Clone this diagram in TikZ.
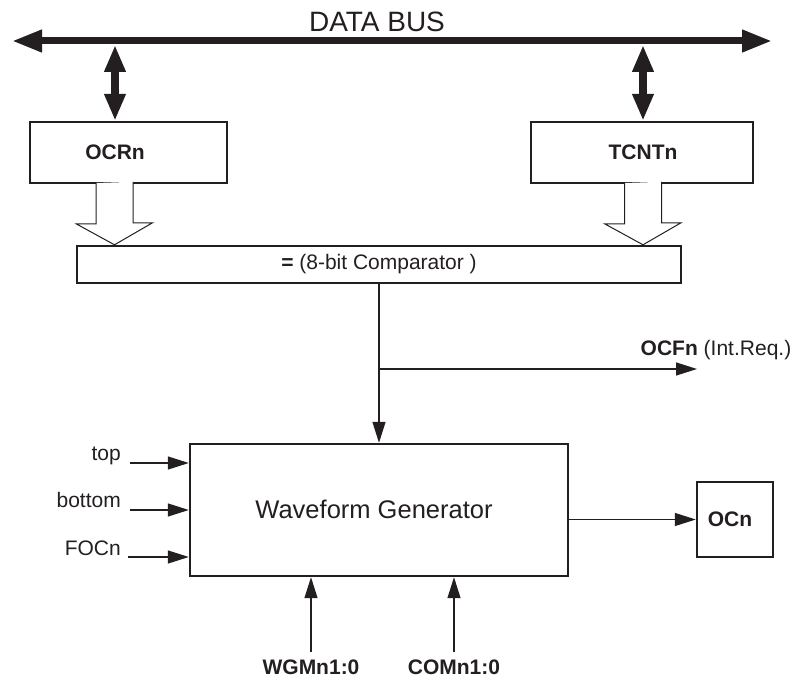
\documentclass[tikz,border=0pt]{standalone}
\usepackage{fontspec}
\setmainfont{Liberation Sans}
\usetikzlibrary{arrows.meta}
\definecolor{ink}{HTML}{231F20}
\tikzset{
	box/.style={draw=ink, line width=2.4pt, inner sep=0pt, text=ink},
	small/.style={font=\fontsize{21}{25}\selectfont},
	smallbf/.style={font=\fontsize{21}{25}\selectfont\bfseries},
	lbl/.style={inner sep=0pt, text=ink},
	sig/.style={draw=ink, line width=1.3pt, -{Triangle[length=21pt,width=13pt]}},
	bus/.style={draw=ink, line width=7pt, {Triangle[length=30pt,width=21pt]}-{Triangle[length=30pt,width=21pt]}},
	tap/.style={draw=ink, line width=8pt, {Triangle[length=27pt,width=20pt]}-{Triangle[length=27pt,width=20pt]}},
	hollow/.style={draw=ink, line width=1pt, fill=white, line join=miter},
}
\begin{document}
\begin{tikzpicture}[x=1pt, y=-1pt]
		\useasboundingbox (0,0) rectangle (796,679);
		% data bus
		\coordinate (busL) at (12,41);
		\coordinate (busR) at (772,41);
		\draw [bus] (busL) -- (busR);
		\node [lbl, font=\fontsize{28}{33}\selectfont] (buslbl) at (377,22) {DATA BUS};
		% registers
		\node [box, minimum width=197pt, minimum height=61pt] (ocr) at (128.5,152.5) {};
		\node [box, minimum width=222pt, minimum height=61pt] (tcnt) at (642,152.5) {};
		\coordinate (ocrtap) at (115,45);
		\coordinate (tcnttap) at (643,45);
		\node [lbl, smallbf] (ocrlbl) at (ocrtap |- ocr) {OCRn};
		\node [lbl, smallbf] (tcntlbl) at (tcnttap |- tcnt) {TCNTn};
		\draw [tap] (ocrtap) -- (ocrtap |- ocr.north);
		\draw [tap] (tcnttap) -- (tcnttap |- tcnt.north);
		% comparator
		\node [box, small, minimum width=604pt, minimum height=37pt] (cmp) at (379,264.5) {\textbf{=} (8-bit Comparator )};
		\coordinate (ocrout) at (114.5,183);
		\coordinate (tcntout) at (643,183);
		\draw [hollow] ([xshift=-18.5pt]ocrout) -- ++(0,41) -- ++(-19.5,0) -- (ocrout |- cmp.north) -- ++(38,-22) -- ++(-19.5,0) -- ++(0,-41);
		\draw [hollow] ([xshift=-18.5pt]tcntout) -- ++(0,41) -- ++(-19.5,0) -- (tcntout |- cmp.north) -- ++(38,-22) -- ++(-19.5,0) -- ++(0,-41);
		% waveform generator
		\node [box, minimum width=378pt, minimum height=132pt] (wave) at (379,510) {};
		\node [lbl, font=\fontsize{25.5}{30}\selectfont] (wavelbl) at (374,509) {Waveform Generator};
		\draw [sig] (cmp.south) -- (wave.north);
		\coordinate (split) at (379,369);
		\coordinate (ocf) at (697,369);
		\draw [sig] (split) -- (ocf);
		\node [lbl, small] (ocflbl) at (716,350) {\textbf{OCFn} (Int.Req.)};
		% inputs
		\coordinate (intop) at (130,463);
		\coordinate (inbot) at (130,510);
		\coordinate (infoc) at (128,557);
		\draw [sig] (intop) -- (intop -| wave.west);
		\draw [sig] (inbot) -- (inbot -| wave.west);
		\draw [sig] (infoc) -- (infoc -| wave.west);
		\node [lbl, small, anchor=base east] (toplbl) at (121,460) {top};
		\node [lbl, small, anchor=base east] (botlbl) at (121,507) {bottom};
		\node [lbl, small, anchor=base east] (foclbl) at (121,555) {FOCn};
		% output
		\node [box, minimum width=76pt, minimum height=75pt] (ocn) at (735,519.5) {};
		\node [lbl, smallbf] (ocnlbl) at (730,519.5) {OCn};
		\draw [sig] (wave.east |- ocn.west) -- (ocn.west);
		% mode inputs
		\coordinate (wgmin) at (311,652);
		\coordinate (comin) at (454,652);
		\draw [sig] (wgmin) -- (wgmin |- wave.south);
		\draw [sig] (comin) -- (comin |- wave.south);
		\node [lbl, smallbf, anchor=base] (wgmlbl) at (311,674) {WGMn1:0};
		\node [lbl, smallbf, anchor=base] (comlbl) at (454,674) {COMn1:0};
\end{tikzpicture}
\end{document}
